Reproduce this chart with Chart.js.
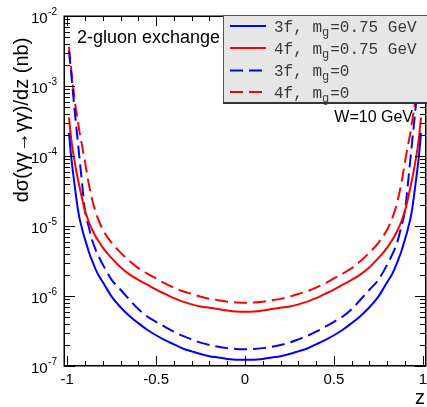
<!DOCTYPE html>
<html><head><meta charset="utf-8">
<script src="https://cdn.jsdelivr.net/npm/chart.js@4"></script>
<style>html,body{margin:0;padding:0;background:#fff;overflow:hidden}#wrap{width:427px;height:407px}</style>
</head><body><div id="wrap"><canvas id="c" width="427" height="407"></canvas></div>
<script>
// ---- data ----
const zValues = [-0.99,-0.98,-0.97,-0.96,-0.95,-0.94,-0.93,-0.92,-0.91,-0.90,-0.88,-0.86,-0.84,-0.82,-0.80,-0.75,-0.70,-0.65,-0.60,-0.55,-0.50,-0.45,-0.40,-0.35,-0.30,-0.25,-0.20,-0.15,-0.10,-0.05,0,
  0.05,0.10,0.15,0.20,0.25,0.30,0.35,0.40,0.45,0.50,0.55,0.60,0.65,0.70,0.75,0.80,0.82,0.84,0.86,0.88,0.90,0.91,0.92,0.93,0.94,0.95,0.96,0.97,0.98,0.99];

// 3f, m_g = 0.75 GeV (blue solid)
const sigma3fMassive = [2.14e-4,1.12e-4,6.6e-5,4.17e-5,2.63e-5,1.74e-5,1.26e-5,1.0e-5,7.9e-6,6.5e-6,4.4e-6,3.2e-6,2.4e-6,1.9e-6,1.58e-6,9.8e-7,6.9e-7,5.2e-7,4.1e-7,3.3e-7,2.75e-7,2.34e-7,2.04e-7,1.78e-7,1.62e-7,1.48e-7,1.38e-7,1.32e-7,1.26e-7,1.23e-7,1.23e-7,
  1.23e-7,1.26e-7,1.32e-7,1.38e-7,1.48e-7,1.62e-7,1.78e-7,2.04e-7,2.34e-7,2.75e-7,3.3e-7,4.1e-7,5.2e-7,6.9e-7,9.8e-7,1.58e-6,1.9e-6,2.4e-6,3.2e-6,4.4e-6,6.5e-6,7.9e-6,1.0e-5,1.26e-5,1.74e-5,2.63e-5,4.17e-5,6.6e-5,1.12e-4,2.14e-4];

// 4f, m_g = 0.75 GeV (red solid)
const sigma4fMassive = [3.55e-4,2.0e-4,1.26e-4,8.9e-5,6.3e-5,4.7e-5,3.55e-5,2.7e-5,2.09e-5,1.66e-5,1.17e-5,8.9e-6,7.1e-6,5.9e-6,4.9e-6,3.47e-6,2.57e-6,2.04e-6,1.7e-6,1.45e-6,1.23e-6,1.07e-6,9.3e-7,8.3e-7,7.6e-7,7.1e-7,6.8e-7,6.5e-7,6.2e-7,6.0e-7,5.95e-7,
  6.0e-7,6.2e-7,6.5e-7,6.8e-7,7.1e-7,7.6e-7,8.3e-7,9.3e-7,1.07e-6,1.23e-6,1.45e-6,1.7e-6,2.04e-6,2.57e-6,3.47e-6,4.9e-6,5.9e-6,7.1e-6,8.9e-6,1.17e-5,1.66e-5,2.09e-5,2.7e-5,3.55e-5,4.7e-5,6.3e-5,8.9e-5,1.26e-4,2.0e-4,3.55e-4];

// 3f, m_g = 0 (blue dashed)
const sigma3fMassless = [3.16e-3,1.78e-3,9.5e-4,5.0e-4,2.8e-4,1.58e-4,8.9e-5,5.0e-5,2.8e-5,1.66e-5,1.0e-5,6.3e-6,4.57e-6,3.55e-6,2.82e-6,1.7e-6,1.23e-6,8.9e-7,6.5e-7,5.1e-7,4.27e-7,3.63e-7,3.09e-7,2.69e-7,2.4e-7,2.16e-7,2.0e-7,1.88e-7,1.8e-7,1.75e-7,1.74e-7,
  1.75e-7,1.8e-7,1.88e-7,2.0e-7,2.16e-7,2.4e-7,2.69e-7,3.09e-7,3.63e-7,4.27e-7,5.1e-7,6.5e-7,8.9e-7,1.23e-6,1.7e-6,2.82e-6,3.55e-6,4.57e-6,6.3e-6,1.0e-5,1.66e-5,2.8e-5,5.0e-5,8.9e-5,1.58e-4,2.8e-4,5.0e-4,9.5e-4,1.78e-3,3.16e-3];

// 4f, m_g = 0 (red dashed)
const sigma4fMassless = [3.63e-3,2.0e-3,1.15e-3,6.9e-4,4.5e-4,3.16e-4,2.14e-4,1.58e-4,1.15e-4,8.3e-5,4.17e-5,2.4e-5,1.58e-5,1.15e-5,8.9e-6,5.75e-6,4.17e-6,3.16e-6,2.5e-6,2.09e-6,1.78e-6,1.51e-6,1.32e-6,1.17e-6,1.07e-6,9.8e-7,9.1e-7,8.7e-7,8.3e-7,8.1e-7,8.0e-7,
  8.1e-7,8.3e-7,8.7e-7,9.1e-7,9.8e-7,1.07e-6,1.17e-6,1.32e-6,1.51e-6,1.78e-6,2.09e-6,2.5e-6,3.16e-6,4.17e-6,5.75e-6,8.9e-6,1.15e-5,1.58e-5,2.4e-5,4.17e-5,8.3e-5,1.15e-4,1.58e-4,2.14e-4,3.16e-4,4.5e-4,6.9e-4,1.15e-3,2.0e-3,3.63e-3];

const seriesLabels = ['3f, m_g=0.75 GeV','4f, m_g=0.75 GeV','3f, m_g=0','4f, m_g=0'];
const xTickValues = [-1,-0.5,0,0.5,1];
const xTickLabels = ['-1','-0.5','0','0.5','1'];
const yDecadeValues = [1e-7,1e-6,1e-5,1e-4,1e-3,1e-2];
const yDecadeExponents = ['-7','-6','-5','-4','-3','-2'];
const yAxisTitle = 'dσ(γγ→γγ)/dz (nb)';
const xAxisTitle = 'z';
const panelText = '2-gluon exchange';
const energyText = 'W=10 GeV';

// ---- styles ----
const BLUE = '#0000ff', RED = '#ff0000';
const DASH = [13, 6];
const SANS = '"Liberation Sans", Arial, Helvetica, sans-serif';
const MONO = '"Liberation Mono", "Courier New", monospace';

function pts(arr){ return zValues.map((z,i)=>({x:z, y:arr[i]})); }

const seriesData = [sigma3fMassive, sigma4fMassive, sigma3fMassless, sigma4fMassless];
const seriesColors = [BLUE, RED, BLUE, RED];
const seriesDashed = [false, false, true, true];

const rootPlugin = {
  id: 'rootStyle',
  beforeDraw(chart){
    const ctx = chart.ctx;
    ctx.save(); ctx.fillStyle = '#fff'; ctx.fillRect(0,0,chart.width,chart.height); ctx.restore();
  },
  afterDatasetsDraw(chart){
    const ctx = chart.ctx, xs = chart.scales.x, ys = chart.scales.y, a = chart.chartArea;
    const L = a.left, R = a.right, T = a.top, B = a.bottom;
    ctx.save();
    ctx.strokeStyle = '#000'; ctx.lineWidth = 1;
    // x ticks (bottom and top), minor every 0.1
    ctx.beginPath();
    for (let k = -10; k <= 10; k++) {
      const v = k/10, px = Math.round(xs.getPixelForValue(v)) + 0.5;
      const major = (k % 5 === 0);
      const len = major ? 10 : 5;
      ctx.moveTo(px, B); ctx.lineTo(px, B - len);
      ctx.moveTo(px, T); ctx.lineTo(px, T + len);
    }
    // y ticks (left and right), log decades with minor 2..9
    for (let d = 0; d < yDecadeValues.length; d++) {
      const base = yDecadeValues[d];
      const py = Math.round(ys.getPixelForValue(base)) + 0.5;
      ctx.moveTo(L, py); ctx.lineTo(L + 11, py);
      ctx.moveTo(R, py); ctx.lineTo(R - 11, py);
      if (d < yDecadeValues.length - 1) {
        for (let m = 2; m <= 9; m++) {
          const my = Math.round(ys.getPixelForValue(base*m)) + 0.5;
          ctx.moveTo(L, my); ctx.lineTo(L + 6, my);
          ctx.moveTo(R, my); ctx.lineTo(R - 6, my);
        }
      }
    }
    ctx.stroke();
    // frame
    ctx.lineWidth = 1.5;
    ctx.strokeRect(L + 0.25, T + 0.25, R - L - 0.5, B - T - 0.5);

    // x tick labels
    ctx.fillStyle = '#000';
    ctx.font = '15px ' + SANS;
    ctx.textAlign = 'center'; ctx.textBaseline = 'alphabetic';
    xTickValues.forEach((v,i)=>{
      ctx.fillText(xTickLabels[i], xs.getPixelForValue(v), B + 18);
    });
    // y tick labels 10^n
    yDecadeValues.forEach((v,i)=>{
      const py = ys.getPixelForValue(v);
      ctx.font = '10px ' + SANS;
      const ew = ctx.measureText(yDecadeExponents[i]).width;
      const right = L - 7;
      ctx.textAlign = 'right';
      ctx.fillText(yDecadeExponents[i], right, py - 1);
      ctx.font = '15px ' + SANS;
      ctx.fillText('10', right - ew - 0.5, py + 7);
    });
    // axis titles
    ctx.font = '20px ' + SANS;
    ctx.textAlign = 'right';
    ctx.fillText(xAxisTitle, 425, 404);
    ctx.save();
    ctx.translate(28, 120);
    ctx.rotate(-Math.PI/2);
    ctx.textAlign = 'center';
    ctx.fillText(yAxisTitle, 0, 0);
    ctx.restore();

    // panel texts
    ctx.font = '18px ' + SANS;
    ctx.textAlign = 'left';
    ctx.fillText(panelText, 77, 43);
    ctx.font = '16px ' + SANS;
    ctx.textAlign = 'right';
    ctx.fillText(energyText, 413, 122);

    // legend box
    const bx = 223, by = 15, bw = chart.width - bx + 2, bh = 87;
    ctx.fillStyle = '#e6e6e6';
    ctx.fillRect(bx, by, bw, bh);
    ctx.strokeStyle = '#555'; ctx.lineWidth = 1;
    ctx.strokeRect(bx + 0.5, by + 0.5, bw, bh);
    ctx.strokeStyle = '#333'; ctx.lineWidth = 2;
    ctx.beginPath(); ctx.moveTo(bx, by + bh + 1); ctx.lineTo(chart.width, by + bh + 1); ctx.stroke();
    const rowY = [26, 48, 70.5, 92];
    seriesLabels.forEach((lab,i)=>{
      const y = rowY[i];
      ctx.save();
      ctx.strokeStyle = seriesColors[i]; ctx.lineWidth = 2;
      ctx.setLineDash(seriesDashed[i] ? DASH : []);
      ctx.beginPath(); ctx.moveTo(230, y); ctx.lineTo(266, y); ctx.stroke();
      ctx.restore();
      const parts = lab.split('_');
      const main = parts[0], sub = parts[1].charAt(0), rest = parts[1].slice(1);
      ctx.fillStyle = '#3a3a3a';
      ctx.textAlign = 'left';
      ctx.font = '16px ' + MONO;
      let x = 274;
      ctx.fillText(main, x, y + 5.5);
      x += ctx.measureText(main).width;
      ctx.font = '12px ' + MONO;
      ctx.fillText(sub, x, y + 9.5);
      x += ctx.measureText(sub).width + 1;
      ctx.font = '16px ' + MONO;
      ctx.fillText(rest, x, y + 5.5);
    });
    ctx.restore();
  }
};

new Chart(document.getElementById('c'), {
  type: 'line',
  data: {
    datasets: seriesData.map((arr,i)=>({
      label: seriesLabels[i],
      data: pts(arr),
      borderColor: seriesColors[i],
      borderWidth: 2,
      borderDash: seriesDashed[i] ? DASH : [],
      pointRadius: 0,
      fill: false,
      cubicInterpolationMode: 'monotone'
    }))
  },
  options: {
    responsive: false,
    animation: false,
    devicePixelRatio: 1,
    parsing: false,
    layout: { padding: { left: 64, top: 16, right: 1, bottom: 41 } },
    scales: {
      x: { type: 'linear', min: -1.018, max: 1.018, display: false },
      y: { type: 'logarithmic', min: 1e-7, max: 1e-2, display: false }
    },
    plugins: { legend: { display: false }, tooltip: { enabled: false } }
  },
  plugins: [rootPlugin]
});
</script>
</body></html>
